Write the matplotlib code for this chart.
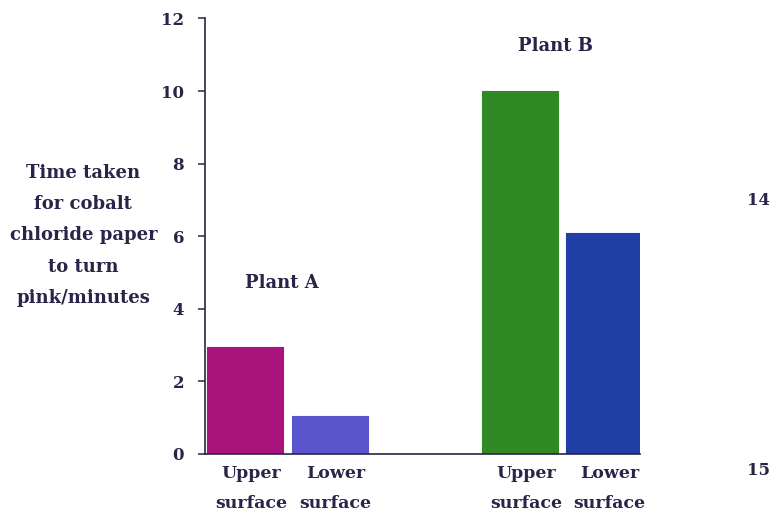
import matplotlib.pyplot as plt

# data
groups = ["Plant A", "Plant B"]
bar_labels = ["Upper\nsurface", "Lower\nsurface", "Upper\nsurface", "Lower\nsurface"]
times = [2.95, 1.05, 10.0, 6.1]
bar_pos = [0, 1, 3.26, 4.25]
bar_colors = ["#a8137c", "#5a55cc", "#2f8a26", "#1f3ea6"]
yticks = [0, 2, 4, 6, 8, 10, 12]

ink = '#2a2448'
plt.rcParams['font.family'] = ['DejaVu Serif']
plt.rcParams['font.weight'] = 'bold'

fig = plt.figure(figsize=(7.72, 5.17), dpi=100)
ax = fig.add_axes([0.2655, 0.1219, 0.5635, 0.8425])

ax.bar(bar_pos, times, width=0.9, color=bar_colors, edgecolor=bar_colors, linewidth=0.8)

ax.set_xlim(-0.48, 4.68)
ax.set_ylim(0, 12)
ax.set_yticks(yticks)
ax.set_yticklabels([str(t) for t in yticks], fontsize=12, color=ink)
ax.tick_params(axis='y', length=5, width=1.1, color=ink, pad=10)
ax.set_xticks([])

for s in ['top', 'right']:
    ax.spines[s].set_visible(False)
for s in ['left', 'bottom']:
    ax.spines[s].set_linewidth(1.2)
    ax.spines[s].set_color(ink)

# labels under each bar
for x, lab in zip(bar_pos, bar_labels):
    ax.text(x + 0.07, -0.3, lab, ha='center', va='top', fontsize=12.5,
            linespacing=2.0, color=ink)

# group names
ax.text(0.43, 4.7, groups[0], ha='center', va='center', fontsize=13, color=ink)
ax.text(3.68, 11.24, groups[1], ha='center', va='center', fontsize=13, color=ink)

# y-axis title, written horizontally to the left
fig.text(0.108, 0.545, "Time taken\nfor cobalt\nchloride paper\nto turn\npink/minutes",
         ha='center', va='center', fontsize=13, linespacing=1.95, color=ink)

# stray page fragments at the right edge of the scan
fig.text(0.998, 0.612, "14", ha='right', va='center', fontsize=12, color=ink)
fig.text(0.998, 0.09, "15", ha='right', va='center', fontsize=12, color=ink)

fig.savefig("out.png", dpi=100)
